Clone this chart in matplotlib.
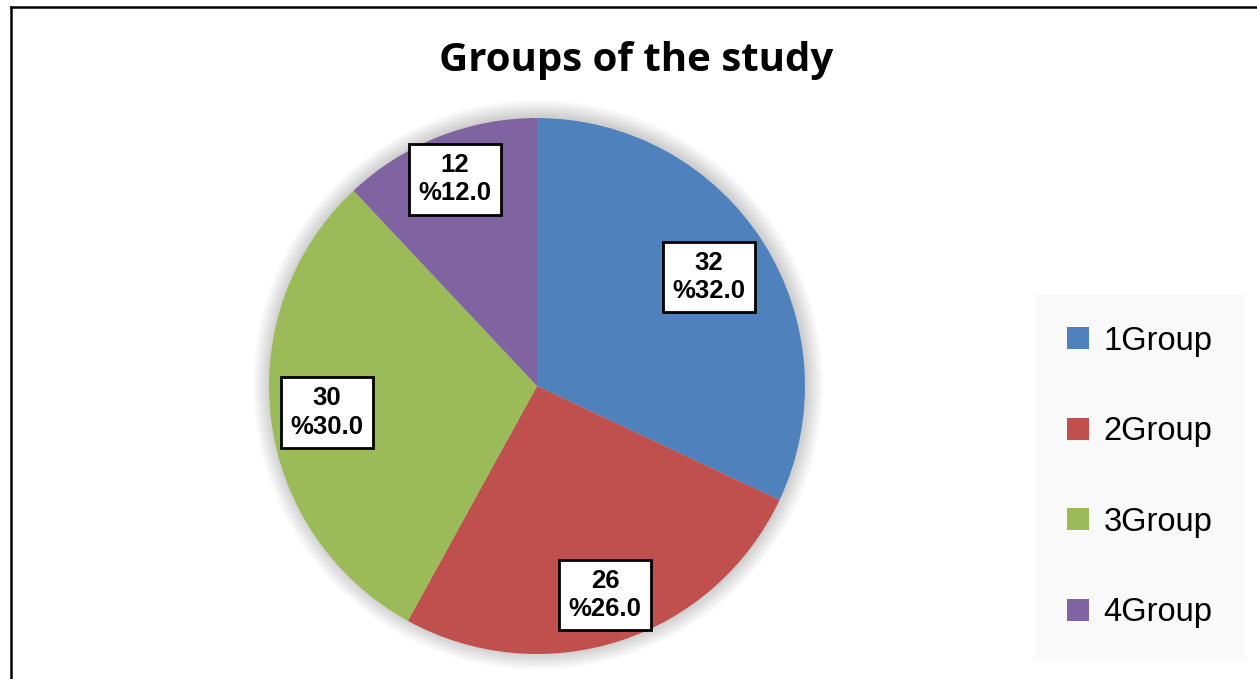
import matplotlib
matplotlib.use('Agg')
import matplotlib.pyplot as plt
from matplotlib.lines import Line2D
from matplotlib.patches import Circle
import numpy as np

# data
groups = ['1Group', '2Group', '3Group', '4Group']
counts = [32, 26, 30, 12]
colors = ['#4F81BD', '#C0504D', '#9BBB59', '#8064A2']
title = 'Groups of the study'

W, H = 1257, 679
fig = plt.figure(figsize=(W / 100, H / 100), dpi=100)
fig.patch.set_facecolor('white')

# pie axes, square in pixels
cx, cy, r = 537, 386, 268
ax = fig.add_axes([(cx - r) / W, (H - cy - r) / H, 2 * r / W, 2 * r / H])

# soft glow behind the pie (excel outer shadow)
for k in range(16, 0, -1):
    ax.add_patch(Circle((0.004, 0.004), 1 + k * 0.004, facecolor='black', edgecolor='none',
                        alpha=0.011, clip_on=False, zorder=0))

wedges, _ = ax.pie(counts, colors=colors, startangle=90, counterclock=False,
                   radius=1, wedgeprops={'linewidth': 0})
for w in wedges:
    w.set_zorder(2)
ax.set_xlim(-1, 1)
ax.set_ylim(-1, 1)
ax.axis('off')

# data labels (excel best fit -> slightly different radius each)
label_dist = [0.76, 0.82, 0.79, 0.83]
total = float(sum(counts))
for w, v, d in zip(wedges, counts, label_dist):
    ang = np.deg2rad((w.theta1 + w.theta2) / 2.0)
    ax.text(d * np.cos(ang), d * np.sin(ang), '%d\n%%%.1f' % (v, 100 * v / total),
            ha='center', va='center', fontsize=18.5, fontweight='bold',
            family='Liberation Sans', linespacing=1.22, zorder=5,
            bbox=dict(boxstyle='square,pad=0.36', facecolor='white',
                      edgecolor='black', linewidth=2))

fig.text(636 / W, 1 - 60 / H, title, ha='center', va='center',
         fontsize=29, fontweight='bold', family='Open Sans')

leg = fig.legend(wedges, groups, loc='center', bbox_to_anchor=(1140 / W, 1 - 477 / H),
                 prop={'family': 'Liberation Sans', 'size': 23.5},
                 frameon=True, fancybox=False, borderpad=0.95,
                 handlelength=0.66, handleheight=0.66, handletextpad=0.45,
                 labelspacing=1.82, borderaxespad=0)
leg.get_frame().set_facecolor('#f8f8f8')
leg.get_frame().set_edgecolor('none')

# page border
fig.add_artist(Line2D([11 / W, 11 / W], [0, 1 - 7 / H], color='black', linewidth=1.8,
                      transform=fig.transFigure))
fig.add_artist(Line2D([11 / W, 1], [1 - 7 / H, 1 - 7 / H], color='black', linewidth=1.8,
                      transform=fig.transFigure))

fig.savefig('out.png', dpi=100)
